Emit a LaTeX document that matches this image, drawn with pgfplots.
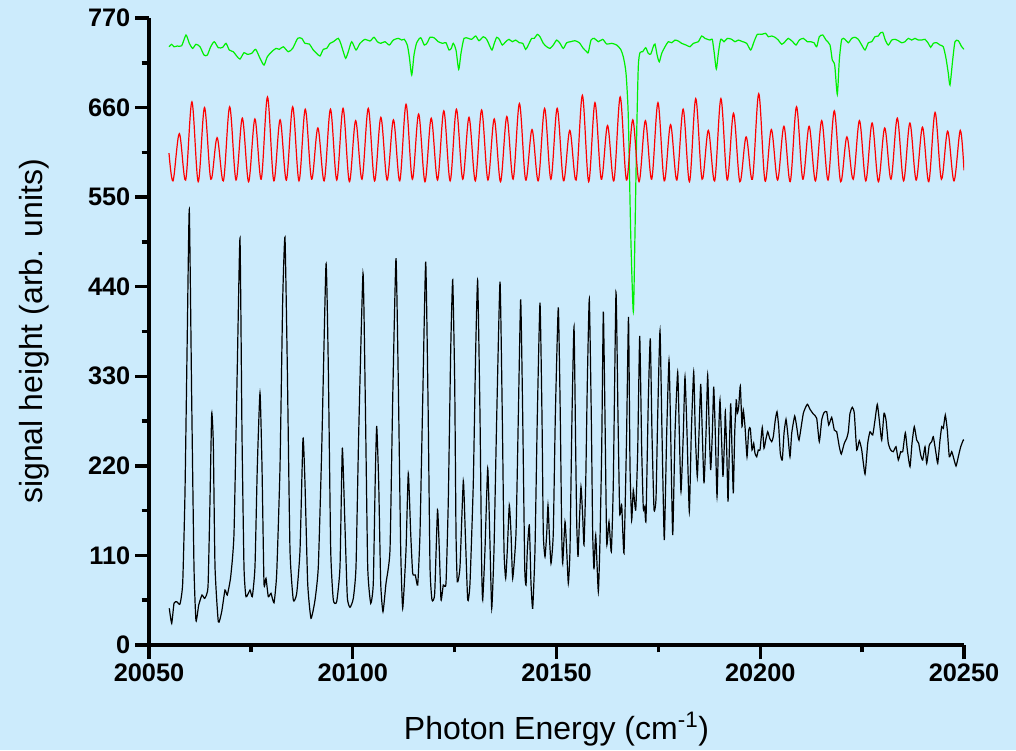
\documentclass[border=0pt]{standalone}
\usepackage{fontspec}
\setmainfont{Liberation Sans}
\usepackage{pgfplots}
\pgfplotsset{compat=1.18}
\definecolor{bgblue}{RGB}{204,235,252}
\definecolor{sgreen}{RGB}{0,240,0}
\definecolor{sred}{RGB}{255,0,0}

\begin{document}
\begin{tikzpicture}
% page background (1016x750 px at 0.75pt/px, axis corner at px 149,645)
\fill[bgblue] (-111.75pt,-78.75pt) rectangle (650.25pt,483.75pt);
\begin{axis}[
  scale only axis,
  width=611.25pt, height=470.25pt,
  xmin=20050, xmax=20250,
  ymin=0, ymax=770,
  scaled x ticks=false, scaled y ticks=false,
  axis x line*=bottom, axis y line*=left,
  axis line style={line width=2.8pt, black},
  xtick={20050,20100,20150,20200,20250},
  xticklabels={20050,20100,20150,20200,20250},
  ytick={0,110,220,330,440,550,660,770},
  yticklabels={0,110,220,330,440,550,660,770},
  minor tick num=1,
  tick align=outside,
  major tick length=10.5pt, minor tick length=5.5pt,
  major tick style={line width=2.6pt, black},
  minor tick style={line width=2.6pt, black},
  tick label style={font=\bfseries\fontsize{19}{19}\selectfont},
  xlabel={Photon Energy (cm\textsuperscript{-1})},
  ylabel={signal height (arb. units)},
  label style={font=\fontsize{24}{24}\selectfont},
  xlabel style={at={(axis description cs:0.5,-0.1515)}, anchor=base},
  ylabel style={at={(axis description cs:-0.1301,0.5)}, anchor=base},
]
% green: transmission reference
\addplot[sgreen, line width=0.9pt, smooth, tension=0.4] coordinates {
(20054.91,734.7)(20055.57,737.7)(20056.14,734.7)(20056.94,735.6)(20058.02,735.9)(20059.08,749.1)(20059.89,738.9)(20060.72,732.7)(20061.53,737.7)(20062.52,734.7)
(20063.50,724.5)(20064.31,724.5)(20065.14,734.7)(20066.02,740.9)(20067.01,733.5)(20068.09,734.0)(20068.90,738.9)(20069.71,730.7)(20070.69,728.6)(20071.52,723.3)
(20072.33,719.6)(20073.31,727.4)(20074.12,725.4)(20075.20,726.6)(20076.18,731.5)(20077.24,720.5)(20078.22,712.2)(20079.03,722.4)(20080.11,728.6)(20081.17,732.7)
(20081.98,731.5)(20082.96,734.7)(20084.18,728.6)(20085.26,732.7)(20086.49,745.0)(20087.47,745.0)(20088.28,738.9)(20089.34,738.0)(20090.32,730.7)(20091.15,726.6)
(20091.96,723.3)(20092.77,731.5)(20093.61,732.7)(20094.42,738.9)(20095.23,740.9)(20096.45,745.0)(20097.04,738.9)(20097.68,728.6)(20098.27,720.5)(20098.91,728.6)
(20099.74,740.9)(20100.80,730.7)(20101.78,738.9)(20103.01,743.8)(20104.23,741.7)(20105.21,746.3)(20106.03,740.9)(20106.86,738.9)(20107.91,740.9)(20108.97,736.8)
(20109.95,742.9)(20111.18,745.0)(20112.01,742.9)(20112.65,743.8)(20113.39,736.8)(20113.88,722.4)(20114.47,700.0)(20115.03,724.5)(20115.69,739.6)(20116.68,745.8)
(20117.56,736.8)(20118.29,739.6)(20118.96,746.3)(20119.94,745.8)(20120.99,740.9)(20122.07,738.9)(20122.88,739.6)(20123.62,730.7)(20124.18,732.7)(20124.67,738.9)
(20125.34,730.7)(20126.00,706.9)(20126.56,726.6)(20127.30,745.0)(20128.36,745.0)(20129.19,743.8)(20130.17,747.9)(20130.98,742.1)(20132.04,747.0)(20132.87,743.8)
(20133.51,736.8)(20134.17,730.7)(20134.74,738.9)(20135.33,746.3)(20135.96,743.8)(20136.70,736.8)(20137.53,740.9)(20138.34,743.8)(20139.15,740.9)(20139.99,742.9)
(20140.87,739.6)(20141.71,738.9)(20142.44,731.5)(20143.08,736.8)(20143.91,745.0)(20144.55,745.0)(20145.29,749.9)(20145.95,747.0)(20146.76,738.9)(20147.60,734.7)
(20148.41,732.7)(20149.21,736.8)(20150.05,742.9)(20150.86,738.9)(20151.67,732.7)(20152.50,739.6)(20153.48,740.9)(20154.54,742.1)(20155.60,739.6)(20156.58,732.7)
(20157.41,728.6)(20157.80,727.4)(20158.47,742.9)(20159.28,745.0)(20160.26,740.9)(20161.34,743.8)(20162.32,738.0)(20163.55,738.9)(20164.77,736.8)(20165.75,731.5)
(20166.39,722.4)(20167.06,702.0)(20167.62,648.8)(20168.21,505.6)(20168.85,409.3)(20169.26,505.6)(20169.68,628.4)(20170.07,710.2)(20170.49,727.4)(20171.15,728.6)
(20171.89,733.5)(20172.53,726.6)(20173.12,725.7)(20173.75,734.7)(20174.17,738.0)(20174.74,723.3)(20175.23,716.3)(20175.82,726.6)(20176.63,734.7)(20177.44,740.9)
(20178.27,739.6)(20179.08,742.9)(20179.89,741.7)(20180.72,738.9)(20181.78,736.8)(20182.76,734.7)(20183.57,738.9)(20184.80,740.9)(20185.63,747.9)(20186.44,745.0)
(20187.67,742.9)(20188.23,743.8)(20188.72,726.6)(20189.22,707.3)(20189.71,726.6)(20190.29,743.8)(20191.10,740.9)(20191.91,745.0)(20192.99,743.8)(20193.80,740.9)
(20194.61,742.9)(20195.69,740.9)(20196.67,738.9)(20197.66,730.7)(20198.47,740.9)(20199.28,749.9)(20200.36,749.9)(20201.34,751.2)(20201.98,747.0)(20202.81,747.9)
(20203.62,746.3)(20204.43,742.9)(20205.26,737.7)(20206.07,740.9)(20206.88,745.0)(20207.96,740.9)(20208.77,736.8)(20209.58,742.9)(20210.57,745.0)(20211.55,740.9)
(20212.38,740.9)(20213.19,739.6)(20213.85,734.7)(20214.49,747.0)(20215.33,749.1)(20216.14,742.9)(20217.12,736.8)(20217.68,718.4)(20218.27,712.2)(20218.91,676.3)
(20219.40,718.4)(20219.99,743.8)(20220.80,743.8)(20221.61,739.6)(20222.44,745.0)(20223.25,746.3)(20224.06,743.8)(20224.90,736.8)(20225.71,730.7)(20226.52,739.6)
(20227.35,740.9)(20228.16,747.0)(20228.97,747.9)(20229.39,751.2)(20230.05,752.4)(20230.69,742.9)(20231.42,736.8)(20232.26,742.9)(20233.07,743.8)(20233.88,742.1)
(20234.71,739.6)(20235.52,740.9)(20236.33,745.0)(20237.16,742.9)(20237.97,745.0)(20238.78,742.9)(20239.62,742.9)(20240.43,743.8)(20241.24,738.9)(20241.83,734.0)
(20242.47,738.9)(20243.30,739.6)(20244.11,736.8)(20244.92,734.7)(20245.58,720.5)(20246.15,702.0)(20246.56,687.7)(20247.22,718.4)(20247.79,740.9)(20248.60,742.1)
(20249.43,734.7)(20250.07,731.5)
};
% red: etalon fringes (peaks and troughs)
\addplot[sred, line width=0.9pt, smooth, tension=0.55] coordinates {
(20054.91,604)(20055.90,570)
(20057.44,628)(20058.99,571)(20060.53,667)(20062.08,569)(20063.62,660)(20065.17,572)(20066.71,623)(20068.26,570)
(20069.80,661)(20071.35,571)(20072.90,647)(20074.44,569)(20075.99,646)(20077.53,572)(20079.08,673)(20080.62,570)
(20082.17,645)(20083.71,571)(20085.26,661)(20086.81,570)(20088.35,658)(20089.90,572)(20091.44,635)(20092.99,570)
(20094.53,658)(20096.08,571)(20097.62,659)(20099.17,569)(20100.71,644)(20102.26,572)(20103.81,659)(20105.35,570)
(20106.90,648)(20108.44,571)(20109.99,645)(20111.53,570)(20113.08,664)(20114.62,572)(20116.17,652)(20117.72,569)
(20119.26,647)(20120.81,571)(20122.35,656)(20123.90,570)(20125.44,658)(20126.99,572)(20128.53,648)(20130.08,570)
(20131.62,657)(20133.17,571)(20134.72,646)(20136.26,569)(20137.81,649)(20139.35,572)(20140.90,665)(20142.44,571)
(20143.99,633)(20145.53,570)(20147.08,659)(20148.62,572)(20150.17,659)(20151.72,570)(20153.26,632)(20154.81,571)
(20156.35,675)(20157.90,569)(20159.44,666)(20160.99,572)(20162.53,638)(20164.08,570)(20165.63,673)(20167.17,571)
(20168.72,645)(20170.26,569)(20171.81,644)(20173.35,572)(20174.90,666)(20176.44,570)(20177.99,639)(20179.53,571)
(20181.08,658)(20182.63,569)(20184.17,671)(20185.72,572)(20187.26,632)(20188.81,570)(20190.35,671)(20191.90,571)
(20193.44,653)(20194.99,569)(20196.54,624)(20198.08,572)(20199.63,677)(20201.17,570)(20202.72,633)(20204.26,571)
(20205.81,637)(20207.35,569)(20208.90,661)(20210.44,572)(20211.99,637)(20213.54,570)(20215.08,644)(20216.63,571)
(20218.17,656)(20219.72,569)(20221.26,624)(20222.81,572)(20224.35,644)(20225.90,570)(20227.45,641)(20228.99,569)
(20230.54,635)(20232.08,572)(20233.63,647)(20235.17,570)(20236.72,641)(20238.26,571)(20239.81,636)(20241.35,569)
(20242.90,654)(20244.45,572)(20245.99,631)(20247.54,570)(20249.08,632)(20250.00,583)
};
% black: signal
\addplot[black, line width=0.9pt, smooth, tension=0.3] coordinates {
(20054.98,45.1)(20055.57,26.6)(20056.14,51.2)(20056.80,53.2)(20057.61,50.3)(20058.27,75.8)(20058.83,186.3)(20059.40,382.8)(20059.89,535.0)(20060.48,300.9)
(20061.04,96.2)(20061.53,29.8)(20062.20,49.1)(20063.01,61.4)(20063.67,57.3)(20064.48,71.6)(20064.97,178.1)(20065.39,284.5)(20065.78,247.7)(20066.20,96.2)
(20067.01,28.6)(20067.84,40.9)(20068.65,67.5)(20069.21,61.4)(20070.05,83.9)(20070.86,137.2)(20071.67,341.8)(20072.33,499.4)(20072.82,260.0)(20073.31,96.2)
(20073.80,59.3)(20074.79,67.5)(20075.35,59.3)(20076.01,96.2)(20076.58,219.0)(20077.24,309.8)(20077.73,219.0)(20078.22,75.8)(20078.71,81.9)(20079.28,59.3)
(20079.94,63.5)(20080.68,51.9)(20081.34,88.0)(20082.15,219.0)(20082.81,423.7)(20083.37,500.7)(20083.94,341.8)(20084.60,116.7)(20085.41,55.3)(20086.25,63.5)
(20087.06,116.7)(20087.79,253.8)(20088.28,198.6)(20088.94,75.8)(20089.75,32.8)(20090.74,55.3)(20091.55,96.2)(20092.38,239.5)(20093.44,467.9)(20094.00,341.8)
(20094.59,116.7)(20095.23,55.3)(20096.06,53.2)(20096.87,96.2)(20097.44,241.5)(20098.02,157.6)(20098.66,59.3)(20099.33,46.3)(20100.14,57.3)(20100.80,96.2)
(20101.46,260.0)(20102.52,456.4)(20103.08,300.9)(20103.67,96.2)(20104.41,51.2)(20105.04,75.8)(20105.53,206.7)(20105.88,268.9)(20106.37,198.6)(20106.86,75.8)
(20107.42,40.9)(20108.16,75.8)(20109.14,116.7)(20109.80,300.9)(20110.61,474.9)(20111.18,321.4)(20111.77,116.7)(20112.26,45.1)(20113.07,116.7)(20113.63,210.8)
(20114.22,137.2)(20114.71,88.0)(20115.35,86.0)(20115.94,73.7)(20116.50,137.2)(20117.17,300.9)(20117.90,470.7)(20118.47,300.9)(20118.96,96.2)(20119.45,55.3)
(20120.11,63.5)(20120.80,165.8)(20121.24,116.7)(20121.66,55.3)(20122.22,73.7)(20122.88,75.8)(20123.45,178.1)(20124.04,362.3)(20124.53,448.2)(20125.02,321.4)
(20125.34,137.2)(20125.66,77.7)(20126.32,96.2)(20127.13,201.4)(20127.62,137.2)(20128.21,55.3)(20128.77,75.8)(20129.58,198.6)(20130.17,362.3)(20130.66,447.4)
(20131.23,280.4)(20131.64,96.2)(20131.89,55.3)(20132.45,116.7)(20133.12,217.0)(20133.61,137.2)(20134.10,45.1)(20134.66,116.7)(20135.33,280.4)(20136.14,446.1)
(20136.70,280.4)(20137.12,116.7)(20137.53,81.9)(20137.93,116.7)(20138.42,171.9)(20138.84,137.2)(20139.25,81.9)(20140.06,137.2)(20140.63,280.4)(20141.21,424.5)
(20141.71,280.4)(20142.20,96.2)(20142.52,73.7)(20142.84,116.7)(20143.33,147.4)(20143.74,75.8)(20144.16,45.1)(20144.72,116.7)(20145.29,280.4)(20145.95,420.3)
(20146.44,280.4)(20146.76,137.2)(20147.18,108.4)(20147.60,137.2)(20147.91,171.9)(20148.23,137.2)(20148.65,100.3)(20149.21,137.2)(20149.71,280.4)(20150.44,414.7)
(20150.93,280.4)(20151.28,137.2)(20151.52,100.3)(20152.09,151.4)(20152.50,116.7)(20152.90,75.8)(20153.31,116.7)(20153.80,280.4)(20154.30,390.9)(20154.71,239.5)
(20154.96,149.4)(20155.28,108.4)(20155.60,149.4)(20156.01,194.4)(20156.43,157.6)(20156.75,122.8)(20157.17,198.6)(20157.56,321.4)(20158.05,424.9)(20158.54,280.4)
(20158.88,137.2)(20159.20,93.0)(20159.62,135.1)(20160.26,65.5)(20160.67,128.9)(20161.09,239.5)(20161.49,409.3)(20161.90,280.4)(20162.32,124.9)(20162.88,151.4)
(20163.45,114.6)(20163.94,198.6)(20164.60,433.1)(20165.09,280.4)(20165.51,161.7)(20166.00,171.9)(20166.56,113.0)(20167.18,251.7)(20167.67,402.8)(20168.04,219.0)
(20168.45,153.5)(20168.85,190.3)(20169.44,165.8)(20169.93,239.5)(20170.42,379.5)(20170.91,239.5)(20171.30,167.9)(20171.64,169.8)(20171.96,153.5)(20172.53,300.9)
(20173.02,376.6)(20173.43,260.0)(20173.93,166.6)(20174.42,180.1)(20174.83,280.4)(20175.40,386.0)(20175.89,260.0)(20176.45,128.9)(20177.04,260.0)(20177.61,350.0)
(20178.02,260.0)(20178.52,135.1)(20179.08,260.0)(20179.74,335.2)(20180.14,260.0)(20180.55,188.3)(20181.12,260.0)(20181.53,329.5)(20182.03,260.0)(20182.59,163.7)
(20183.08,260.0)(20183.67,335.6)(20184.06,260.0)(20184.55,206.7)(20184.97,260.0)(20185.39,320.5)(20185.78,260.0)(20186.20,198.6)(20186.69,260.0)(20187.10,331.6)
(20187.50,260.0)(20187.84,214.9)(20188.24,260.0)(20188.58,317.2)(20188.97,260.0)(20189.39,182.1)(20189.80,260.0)(20190.12,300.9)(20190.54,247.7)(20190.86,206.7)
(20191.28,260.0)(20191.42,286.5)(20191.77,239.5)(20192.09,176.0)(20192.41,239.5)(20192.75,296.8)(20193.07,239.5)(20193.39,186.3)(20193.73,260.0)(20194.12,300.9)
(20194.37,284.5)(20194.71,292.6)(20195.11,318.1)(20195.52,268.1)(20195.84,288.6)(20196.26,268.1)(20196.75,231.2)(20197.17,264.0)(20197.56,266.1)(20197.98,239.5)
(20198.39,247.7)(20198.71,235.4)(20199.13,231.2)(20199.52,239.5)(20199.94,239.5)(20200.50,267.3)(20200.92,241.5)(20201.34,251.7)(20201.83,261.9)(20202.32,253.8)
(20202.81,249.7)(20203.20,255.8)(20203.69,276.3)(20204.11,286.5)(20204.53,268.1)(20204.92,235.4)(20205.41,227.2)(20205.83,260.0)(20206.32,277.2)(20206.74,260.0)
(20207.30,231.2)(20207.72,260.0)(20208.45,281.2)(20208.94,268.1)(20209.51,251.7)(20210.57,284.5)(20211.55,295.6)(20212.21,289.4)(20213.02,283.7)(20213.85,278.4)
(20214.49,249.7)(20215.08,276.3)(20215.64,285.3)(20216.31,286.5)(20216.80,270.2)(20217.53,279.6)(20218.17,264.0)(20218.76,261.9)(20219.40,243.5)(20219.89,234.5)
(20220.62,247.7)(20221.21,253.8)(20221.61,261.9)(20222.02,284.5)(20222.59,291.9)(20223.08,284.5)(20223.67,239.5)(20224.31,250.9)(20224.90,239.5)(20225.71,210.0)
(20226.37,247.7)(20226.93,261.9)(20227.60,257.9)(20228.16,276.3)(20228.72,295.6)(20229.21,276.3)(20229.80,251.7)(20230.37,284.5)(20230.86,276.3)(20231.42,247.7)
(20232.01,239.5)(20232.65,237.4)(20233.31,243.5)(20233.88,227.2)(20234.47,237.4)(20234.96,237.4)(20235.60,260.7)(20236.09,239.5)(20236.75,219.0)(20237.24,247.7)
(20237.80,268.1)(20238.39,251.7)(20238.88,247.7)(20239.37,233.3)(20239.86,227.2)(20240.43,243.5)(20240.85,223.1)(20241.48,245.6)(20242.07,249.7)(20242.47,255.8)
(20243.13,235.4)(20243.55,223.1)(20244.11,251.7)(20244.53,268.1)(20244.92,266.1)(20245.41,282.4)(20245.90,264.0)(20246.39,231.2)(20246.98,237.4)(20247.37,231.2)
(20248.04,219.8)(20248.60,231.2)(20249.19,243.5)(20249.83,251.7)(20250.00,250.9)
};
\end{axis}
\pgfresetboundingbox
\path[use as bounding box] (-111.75pt,-78.75pt) rectangle (650.25pt,483.75pt);
\end{tikzpicture}
\end{document}
